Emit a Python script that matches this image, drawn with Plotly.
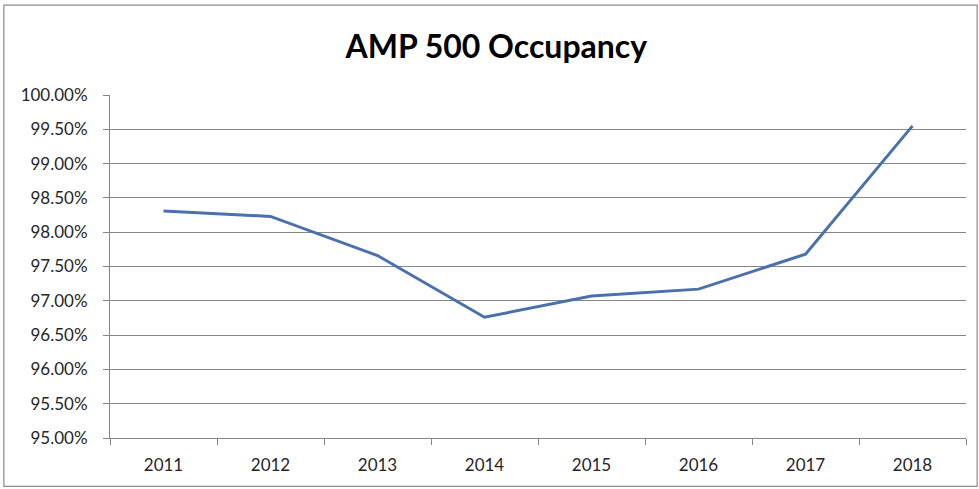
import plotly.graph_objects as go

years = ["2011", "2012", "2013", "2014", "2015", "2016", "2017", "2018"]
occupancy = [0.9831, 0.9823, 0.9766, 0.9676, 0.9707, 0.9717, 0.9768, 0.9955]
y_ticks = [0.95, 0.955, 0.96, 0.965, 0.97, 0.975, 0.98, 0.985, 0.99, 0.995, 1.0]

font_family = "Lato, 'Open Sans', sans-serif"
grid_color = "#868686"
text_color = "#262626"

fig = go.Figure(
    go.Scatter(
        x=years,
        y=occupancy,
        mode="lines",
        line=dict(color="#4a70ad", width=3),
        hoverinfo="x+y",
    )
)

fig.update_layout(
    width=979,
    height=489,
    paper_bgcolor="white",
    plot_bgcolor="white",
    margin=dict(l=110, r=13, t=95, b=51),
    showlegend=False,
    title=dict(
        text="<b>AMP 500 Occupancy</b>",
        x=0.507,
        xanchor="center",
        y=0.905,
        yanchor="middle",
        font=dict(family=font_family, size=32, color="#000000"),
    ),
    font=dict(family=font_family, size=17, color=text_color),
    shapes=[
        dict(
            type="rect", xref="paper", yref="paper",
            x0=-0.124, x1=1.013, y0=-0.141, y1=1.262,
            line=dict(color="#8c8c8c", width=1.2),
        )
    ],
)

fig.update_xaxes(
    type="category",
    range=[-0.5, 7.5],
    automargin=False,
    showgrid=False,
    showline=True,
    linecolor=grid_color,
    linewidth=1,
    ticks="outside",
    tickson="boundaries",
    ticklen=6,
    tickcolor=grid_color,
    ticklabelstandoff=12,
    tickfont=dict(size=17, color=text_color),
)

fig.update_yaxes(
    range=[0.95, 1.0],
    automargin=False,
    tickvals=y_ticks,
    tickformat=".2%",
    showgrid=True,
    gridcolor=grid_color,
    gridwidth=1,
    showline=True,
    linecolor=grid_color,
    linewidth=1,
    ticks="outside",
    ticklen=6,
    tickcolor=grid_color,
    ticklabelstandoff=12,
    zeroline=False,
    tickfont=dict(size=17, color=text_color),
)

fig.write_html("out.html")
